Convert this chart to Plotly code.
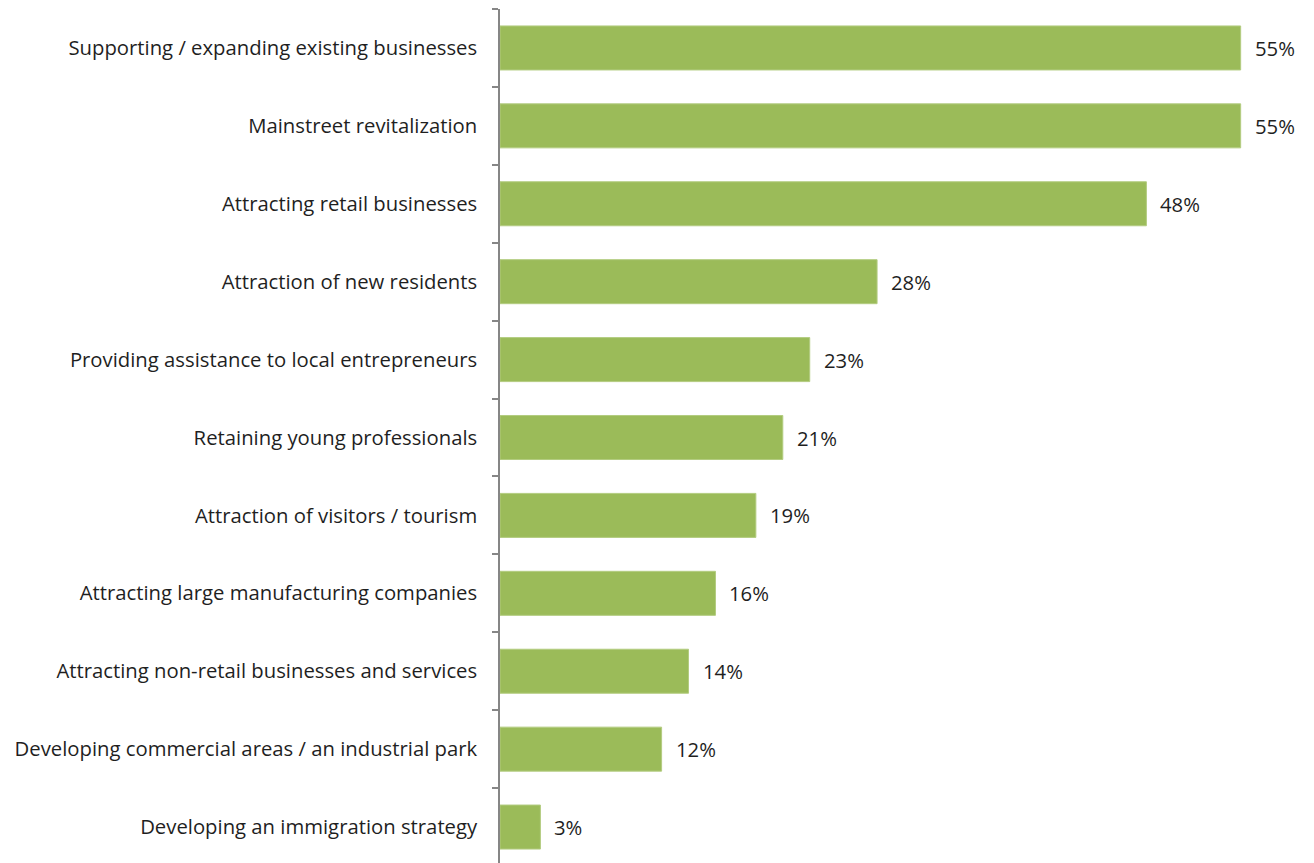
import plotly.graph_objects as go

categories = [
    "Supporting / expanding existing businesses",
    "Mainstreet revitalization",
    "Attracting retail businesses",
    "Attraction of new residents",
    "Providing assistance to local entrepreneurs",
    "Retaining young professionals",
    "Attraction of visitors / tourism",
    "Attracting large manufacturing companies",
    "Attracting non-retail businesses and services",
    "Developing commercial areas / an industrial park",
    "Developing an immigration strategy",
]
values = [55, 55, 48, 28, 23, 21, 19, 16, 14, 12, 3]

FONT = "Open Sans"
FONT_SIZE = 20.3
TEXT_COLOR = "#1f1f1f"
BAR_COLOR = "#9bbb59"

fig = go.Figure(
    go.Bar(
        x=values,
        y=categories,
        orientation="h",
        marker=dict(color=BAR_COLOR, line=dict(color="#b3cc80", width=1)),
        hoverinfo="skip",
    )
)

# value labels placed just past the end of each bar
for cat, val in zip(categories, values):
    fig.add_annotation(
        x=val, y=cat, text=f"{val}%", showarrow=False,
        xanchor="left", yanchor="middle", xshift=12,
        font=dict(family=FONT, size=FONT_SIZE, color=TEXT_COLOR),
    )

fig.update_layout(
    width=1314, height=863,
    margin=dict(l=500, r=6, t=9, b=0),
    plot_bgcolor="white", paper_bgcolor="white",
    bargap=0.435,
    showlegend=False,
    font=dict(family=FONT, size=FONT_SIZE, color=TEXT_COLOR),
)
fig.update_xaxes(
    range=[0, 60], showgrid=False, zeroline=False,
    showticklabels=False, showline=False, ticks="",
)
fig.update_yaxes(
    type="category",
    range=[10.4615, -0.5],
    showgrid=False, zeroline=False,
    showline=True, linecolor="#868686", linewidth=1.5,
    ticks="outside", tickson="boundaries", ticklen=6, tickcolor="#868686", tickwidth=1.5,
    ticklabelstandoff=17,
    tickfont=dict(family=FONT, size=FONT_SIZE, color=TEXT_COLOR),
)

fig.write_html("out.html")
